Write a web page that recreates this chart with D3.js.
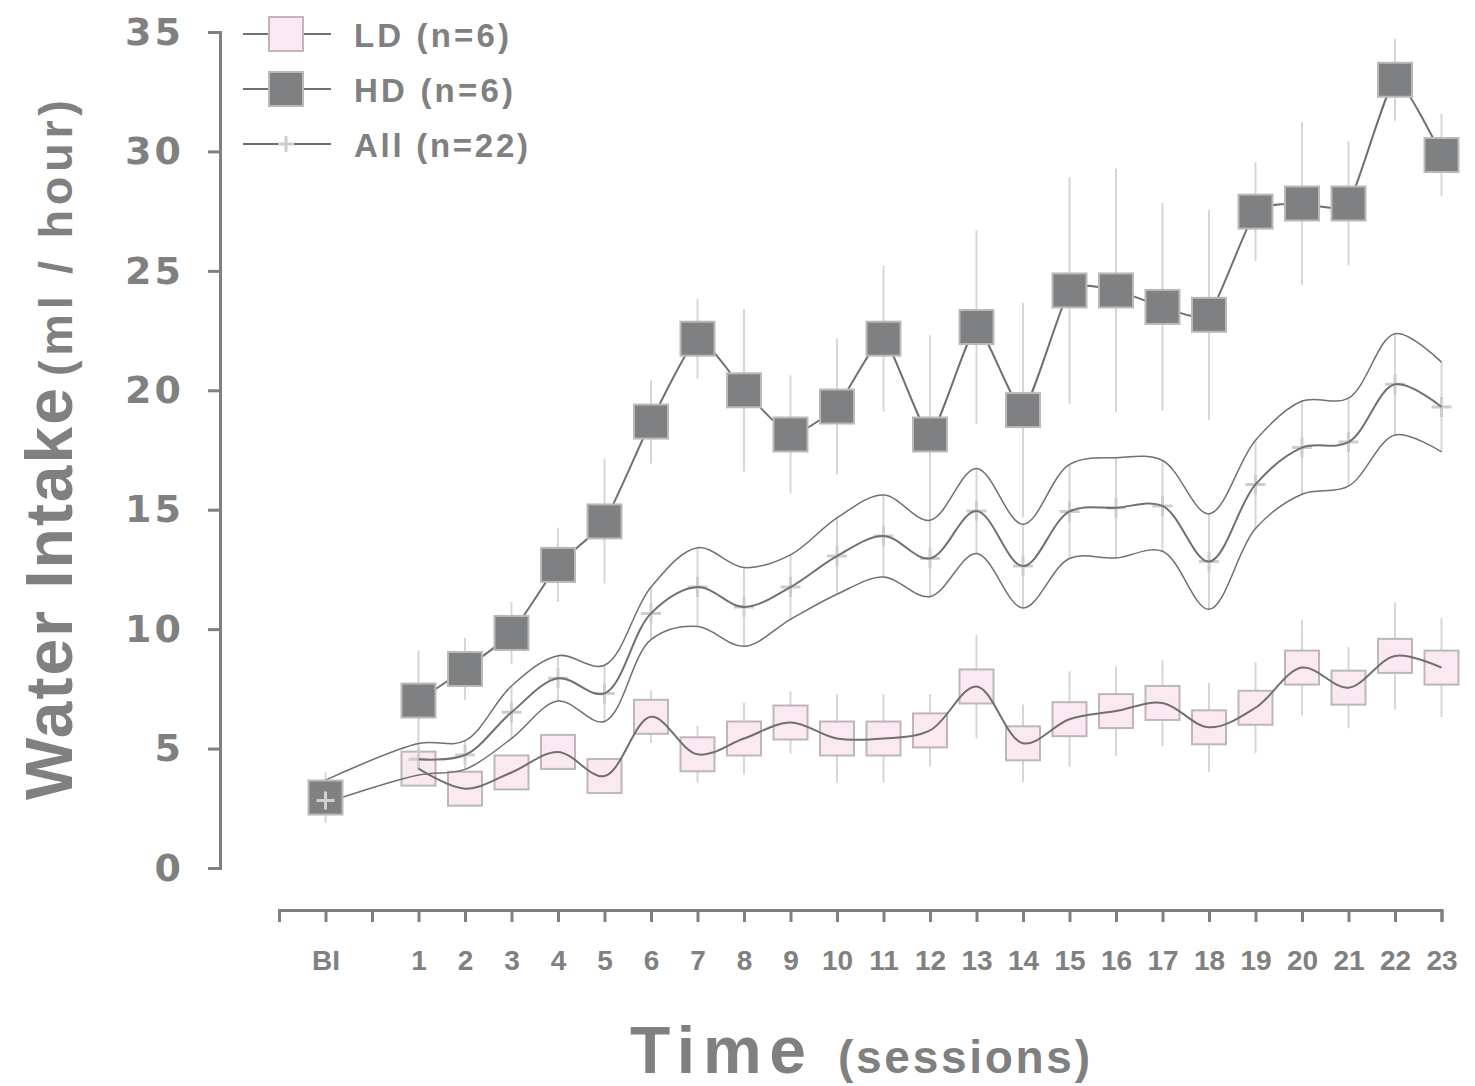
<!DOCTYPE html>
<html>
<head>
<meta charset="utf-8">
<script src="https://cdn.jsdelivr.net/npm/d3@7"></script>
<style>
  body { margin: 0; background: #fff; }
  text { font-family: "Liberation Sans", Arial, sans-serif; font-weight: bold; fill: #808080; }
</style>
</head>
<body>
<div id="chart"></div>
<script>
// Water intake per session - LD / HD / All groups

const slotKeys = ["pre", "BI", "gap", "1", "2", "3", "4", "5", "6", "7", "8", "9", "10", "11", "12",
    "13", "14", "15", "16", "17", "18", "19", "20", "21", "22", "23"];
const sessions = ["1", "2", "3", "4", "5", "6", "7", "8", "9", "10", "11", "12",
    "13", "14", "15", "16", "17", "18", "19", "20", "21", "22", "23"];
const yTicks = [0, 5, 10, 15, 20, 25, 30, 35];

const hdMean = [7.01, 8.33, 9.84, 12.69, 14.51, 18.69, 22.16, 20.0, 18.15, 19.32, 22.16, 18.15,
    22.65, 19.17, 24.18, 24.18, 23.49, 23.16, 27.48, 27.82, 27.82, 33.0, 29.85];
const hdErr = [2.1, 1.3, 1.3, 1.55, 2.6, 1.75, 1.67, 3.4, 2.47, 2.85, 3.05, 4.15,
    4.05, 4.5, 4.75, 5.1, 4.35, 4.4, 2.07, 3.4, 2.6, 1.72, 1.72];

const ldMean = [4.16, 3.32, 4.0, 4.86, 3.85, 6.33, 4.76, 5.42, 6.09, 5.42, 5.42, 5.76,
    7.6, 5.22, 6.23, 6.57, 6.91, 5.89, 6.71, 8.39, 7.55, 8.88, 8.39];
const ldErr = [0.6, 0.6, 0.6, 0.6, 0.6, 1.1, 1.19, 1.49, 1.3, 1.85, 1.85, 1.52,
    2.17, 1.63, 2.0, 1.87, 1.81, 1.86, 1.9, 2.0, 1.7, 2.24, 2.07];

const allMean = [4.55, 4.73, 6.52, 7.94, 7.31, 10.66, 11.76, 10.93, 11.76, 13.06, 13.9, 12.96,
    14.95, 12.64, 14.93, 15.08, 15.16, 12.83, 16.06, 17.6, 17.83, 20.25, 19.3];
const allSem = [0.66, 0.6, 1.1, 0.95, 1.18, 1.1, 1.65, 1.65, 1.35, 1.6, 1.72, 1.6,
    1.78, 1.75, 1.97, 2.1, 1.9, 2.0, 1.85, 1.95, 1.84, 2.12, 1.88];

// baseline (BI) session
const blMean = 2.95;
const blErr = 1.06;
const blAllMean = 3.2;
const blAllSem = 0.48;

const legendLabels = ["LD (n=6)", "HD (n=6)", "All (n=22)"];

const width = 1475;
const height = 1086;
const sq = 34;

const grey = "#808080";
const errColor = "#d6d6d6";
const lineColor = "#707070";
const hdFill = "#7f8082";
const hdStroke = "#b9b9b9";
const ldFill = "#fbe9f1";
const ldStroke = "#bdb6ba";

const svg = d3.select("#chart").append("svg")
    .attr("width", width)
    .attr("height", height);

const x = d3.scalePoint().domain(slotKeys).range([279, 1441.5]);
const y = d3.scaleLinear().domain([0, 35]).range([868, 32]);

// axes
const yAxis = svg.append("g")
    .attr("transform", "translate(220,0)")
    .call(d3.axisLeft(y).tickValues(yTicks).tickSize(12).tickPadding(24));
yAxis.selectAll("path, line").attr("stroke", grey).attr("stroke-width", 3);
yAxis.selectAll("text")
    .style("font-family", "'DejaVu Sans', sans-serif")
    .style("font-weight", "bold")
    .style("font-size", "38px")
    .style("letter-spacing", "3px")
    .attr("fill", grey);

const xAxis = svg.append("g")
    .attr("transform", "translate(0,910)")
    .call(d3.axisBottom(x).tickSize(12).tickFormat(d => (d === "pre" || d === "gap") ? "" : d));
xAxis.selectAll("path, line").attr("stroke", grey).attr("stroke-width", 3);
xAxis.selectAll("text")
    .attr("y", 60).attr("dy", 0)
    .style("font-size", "28px")
    .attr("fill", grey);

// axis titles
svg.append("text")
    .attr("transform", "translate(72,800) rotate(-90)")
    .attr("textLength", 412).attr("lengthAdjust", "spacing")
    .style("font-size", "66px")
    .text("Water Intake");
svg.append("text")
    .attr("transform", "translate(72,376) rotate(-90)")
    .attr("textLength", 276).attr("lengthAdjust", "spacing")
    .style("font-size", "47px")
    .text("(ml / hour)");
svg.append("text")
    .attr("x", 630).attr("y", 1073)
    .attr("textLength", 176).attr("lengthAdjust", "spacing")
    .style("font-size", "66px")
    .text("Time");
svg.append("text")
    .attr("x", 838).attr("y", 1073)
    .attr("textLength", 252).attr("lengthAdjust", "spacing")
    .style("font-size", "46px")
    .text("(sessions)");

// error bars
const errG = svg.append("g").attr("stroke", errColor).attr("stroke-width", 2);
const errBars = (means, errs) => {
    errG.selectAll(null)
        .data(sessions)
        .join("line")
        .attr("x1", d => x(d)).attr("x2", d => x(d))
        .attr("y1", (d, i) => y(means[i] + errs[i]))
        .attr("y2", (d, i) => y(means[i] - errs[i]));
};
errBars(hdMean, hdErr);
errBars(ldMean, ldErr);
errBars(allMean, allSem);
errG.append("line")
    .attr("x1", x("BI")).attr("x2", x("BI"))
    .attr("y1", y(blMean + blErr)).attr("y2", y(blMean - blErr));

// LD squares
svg.append("g").selectAll("rect")
    .data(sessions)
    .join("rect")
    .attr("x", d => x(d) - sq / 2)
    .attr("y", (d, i) => y(ldMean[i]) - sq / 2)
    .attr("width", sq).attr("height", sq)
    .attr("fill", ldFill)
    .attr("stroke", ldStroke)
    .attr("stroke-width", 2);

// All "+" markers
const plus = (px, py, s) => `M${px - s},${py}H${px + s}M${px},${py - s}V${py + s}`;
svg.append("g").selectAll("path")
    .data(sessions)
    .join("path")
    .attr("d", (d, i) => plus(x(d), y(allMean[i]), 10))
    .attr("stroke", "#cdcdcd")
    .attr("stroke-width", 3);

// curves
const curve = d3.line()
    .x(d => x(d[0]))
    .y(d => y(d[1]))
    .curve(d3.curveCatmullRom.alpha(0.5));

const drawCurve = (pts, sw) => svg.append("path")
    .datum(pts)
    .attr("d", curve)
    .attr("fill", "none")
    .attr("stroke", lineColor)
    .attr("stroke-width", sw);

drawCurve(sessions.map((s, i) => [s, ldMean[i]]), 2);
drawCurve(sessions.map((s, i) => [s, allMean[i]]), 2);
drawCurve([["BI", blAllMean + blAllSem]].concat(sessions.map((s, i) => [s, allMean[i] + allSem[i]])), 1.5);
drawCurve([["BI", blAllMean - blAllSem]].concat(sessions.map((s, i) => [s, allMean[i] - allSem[i]])), 1.5);

// HD line + squares
svg.append("path")
    .datum(sessions.map((s, i) => [s, hdMean[i]]))
    .attr("d", d3.line().x(d => x(d[0])).y(d => y(d[1])).curve(d3.curveCardinal.tension(0.5)))
    .attr("fill", "none")
    .attr("stroke", lineColor)
    .attr("stroke-width", 2);

svg.append("g").selectAll("rect")
    .data(sessions)
    .join("rect")
    .attr("x", d => x(d) - sq / 2)
    .attr("y", (d, i) => y(hdMean[i]) - sq / 2)
    .attr("width", sq).attr("height", sq)
    .attr("fill", hdFill)
    .attr("stroke", hdStroke)
    .attr("stroke-width", 2);

// baseline point
svg.append("rect")
    .attr("x", x("BI") - sq / 2).attr("y", y(blMean) - sq / 2)
    .attr("width", sq).attr("height", sq)
    .attr("fill", hdFill).attr("stroke", hdStroke).attr("stroke-width", 2);
svg.append("path")
    .attr("d", plus(x("BI"), y(blMean) + 3, 9))
    .attr("stroke", "#d0d0d0").attr("stroke-width", 3);

// legend
const legend = svg.append("g");
const legendY = [34, 89, 144];
const legendLen = [155, 159, 174];
legendLabels.forEach((label, i) => {
    const ly = legendY[i];
    legend.append("line")
        .attr("x1", 243).attr("x2", 331)
        .attr("y1", ly).attr("y2", ly)
        .attr("stroke", lineColor).attr("stroke-width", 2);
    if (i < 2) {
        legend.append("rect")
            .attr("x", 286 - sq / 2).attr("y", ly - sq / 2)
            .attr("width", sq).attr("height", sq)
            .attr("fill", i === 0 ? ldFill : hdFill)
            .attr("stroke", i === 0 ? ldStroke : hdStroke)
            .attr("stroke-width", 2);
    } else {
        legend.append("path")
            .attr("d", plus(286, ly, 8))
            .attr("stroke", "#cdcdcd").attr("stroke-width", 3);
    }
    legend.append("text")
        .attr("x", 354).attr("y", ly + 13)
        .attr("textLength", legendLen[i]).attr("lengthAdjust", "spacing")
        .style("font-size", "33px")
        .text(label);
});
</script>
</body>
</html>
